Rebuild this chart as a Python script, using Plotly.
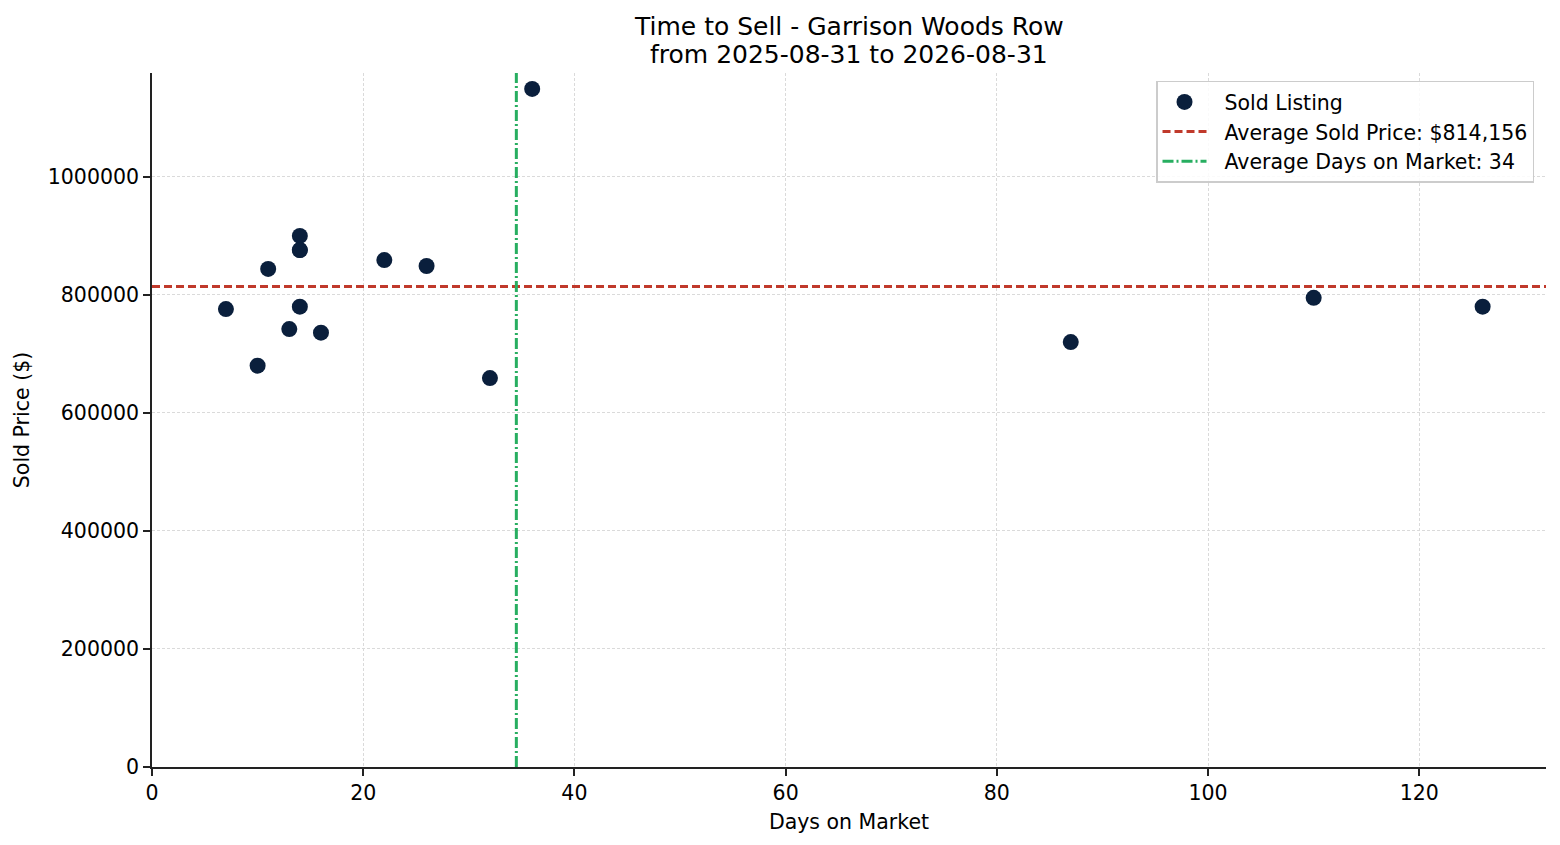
import plotly.graph_objects as go

# sold listings: days on market vs sold price
days_on_market = [7, 10, 11, 13, 14, 14, 14, 14, 16, 22, 26, 32, 36, 87, 110, 126]
sold_price = [776000, 680000, 844000, 742000, 900000, 876000, 876000, 780000,
              736000, 859000, 849000, 659000, 1149000, 720000, 795000, 780000]

avg_price = 814156
avg_days = 34.5

x_range = [0, 132]
y_range = [0, 1176000]
y_ticks = [0, 200000, 400000, 600000, 800000, 1000000]
x_ticks = [0, 20, 40, 60, 80, 100, 120]

title_lines = ["Time to Sell - Garrison Woods Row", "from 2025-08-31 to 2026-08-31"]

FONT = "DejaVu Sans"
GAP = "\u00a0\u00a0"  # room between legend symbol and label

fig = go.Figure()

fig.add_trace(go.Scatter(
    x=days_on_market, y=sold_price, mode="markers", name=GAP + "Sold Listing",
    marker=dict(color="#0a1f3c", size=16, line=dict(width=0)),
))
fig.add_trace(go.Scatter(
    x=x_range, y=[avg_price, avg_price], mode="lines",
    name=GAP + "Average Sold Price: ${:,}".format(avg_price),
    line=dict(color="#c0392b", width=3, dash="8px,4px"),
))
fig.add_trace(go.Scatter(
    x=[avg_days, avg_days], y=y_range, mode="lines",
    name=GAP + "Average Days on Market: %d" % round(avg_days),
    line=dict(color="#27ae60", width=3, dash="11px,3px,2px,3px"),
))

axis_common = dict(
    showline=True, linecolor="#222222", linewidth=1.6,
    ticks="outside", ticklen=7, tickwidth=1.6, tickcolor="#222222",
    showgrid=True, gridcolor="#dadada", gridwidth=0.8, griddash="3px,2px",
    zeroline=False, mirror=False,
    tickfont=dict(family=FONT, size=20.5, color="#000000"),
)

fig.update_xaxes(range=x_range, tickvals=x_ticks,
                 title=dict(text="Days on Market", font=dict(family=FONT, size=20.5, color="#000"), standoff=10),
                 **axis_common)
fig.update_yaxes(range=y_range, tickvals=y_ticks, tickformat="d",
                 title=dict(text="Sold Price ($)", font=dict(family=FONT, size=20.5, color="#000"), standoff=13),
                 **axis_common)

# title: one annotation per line, to get matplotlib's tighter line spacing
for line, shift in zip(title_lines, [47, 19]):
    fig.add_annotation(
        text=line, x=0.5, xref="paper", xanchor="center",
        y=1, yref="paper", yanchor="middle", yshift=shift,
        showarrow=False, font=dict(family=FONT, size=25, color="#000"),
    )

# page body adds an 8px margin, so the figure is a bit smaller than the window
fig.update_layout(
    width=1552, height=837,
    margin=dict(l=140, r=14, t=65, b=78),
    plot_bgcolor="white", paper_bgcolor="white",
    font=dict(family=FONT, size=20.5, color="#000"),
    legend=dict(x=0.9914, xanchor="right", y=0.989, yanchor="top",
                bgcolor="rgba(255,255,255,0.85)", bordercolor="#cccccc", borderwidth=1.5,
                font=dict(family=FONT, size=20.5), tracegroupgap=0, itemwidth=44),
    showlegend=True,
)

fig.write_html("out.html")
